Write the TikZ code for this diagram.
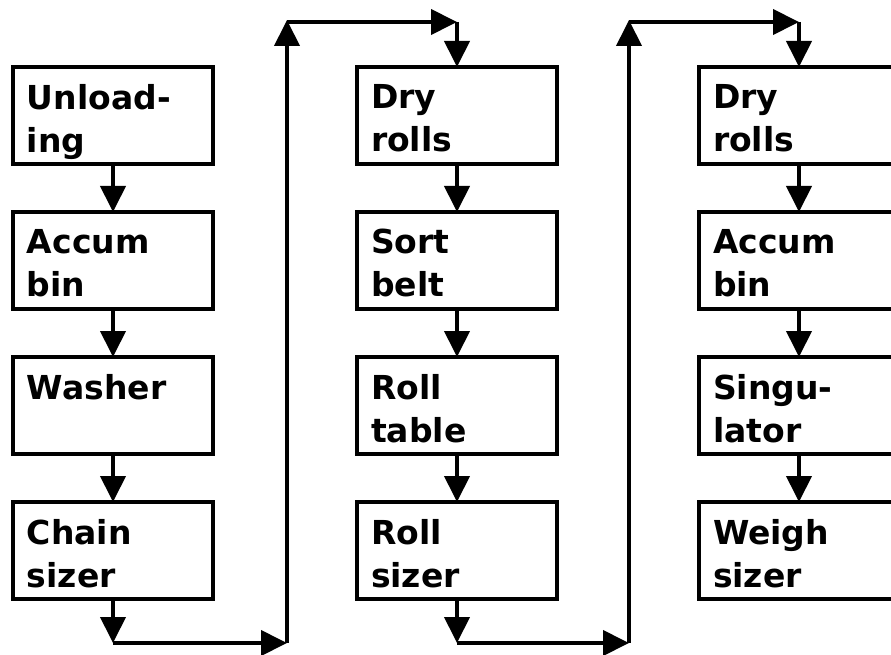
\documentclass[tikz,border=0pt]{standalone}
\usepackage{fontspec}
\setmainfont{DejaVu Sans}
\usetikzlibrary{arrows.meta}
\tikzset{
  box/.style={draw, line width=3.5pt, minimum width=200pt, minimum height=97pt, inner sep=0pt, outer sep=0pt, anchor=north west},
  lbl/.style={anchor=base west, inner sep=0pt, outer sep=0pt, font=\fontsize{33}{43}\selectfont\bfseries},
  flow/.style={line width=4pt, -{Triangle[width=25pt,length=26pt]}}
}
\newcommand\mylines[2]{\vtop{\hbox{#1}\hbox{#2}}}
\begin{document}
\begin{tikzpicture}[x=1pt,y=-1pt]
\useasboundingbox (0,0) rectangle (891,655);
\clip (0,0) rectangle (891,655);
% column 1
\node[box] (a1) at (13,67) {};
\node[box] (a2) at (13,212) {};
\node[box] (a3) at (13,357) {};
\node[box] (a4) at (13,502) {};
% column 2
\node[box] (b1) at (357,67) {};
\node[box] (b2) at (357,212) {};
\node[box] (b3) at (357,357) {};
\node[box] (b4) at (357,502) {};
% column 3
\node[box] (c1) at (699,67) {};
\node[box] (c2) at (699,212) {};
\node[box] (c3) at (699,357) {};
\node[box] (c4) at (699,502) {};
% labels
\node[lbl] (ta1) at ([shift={(14,43)}]a1.north west) {\mylines{Unload-}{ing}};
\node[lbl] (ta2) at ([shift={(14,41)}]a2.north west) {\mylines{Accum}{bin}};
\node[lbl] (ta3) at ([shift={(14,42)}]a3.north west) {Washer};
\node[lbl] (ta4) at ([shift={(14,42)}]a4.north west) {\mylines{Chain}{sizer}};
\node[lbl] (tb1) at ([shift={(14,42)}]b1.north west) {\mylines{Dry}{rolls}};
\node[lbl] (tb2) at ([shift={(14,41)}]b2.north west) {\mylines{Sort}{belt}};
\node[lbl] (tb3) at ([shift={(14,42)}]b3.north west) {\mylines{Roll}{table}};
\node[lbl] (tb4) at ([shift={(14,42)}]b4.north west) {\mylines{Roll}{sizer}};
\node[lbl] (tc1) at ([shift={(14,42)}]c1.north west) {\mylines{Dry}{rolls}};
\node[lbl] (tc2) at ([shift={(14,41)}]c2.north west) {\mylines{Accum}{bin}};
\node[lbl] (tc3) at ([shift={(14,42)}]c3.north west) {\mylines{Singu-}{lator}};
\node[lbl] (tc4) at ([shift={(14,42)}]c4.north west) {\mylines{Weigh}{sizer}};
% arrows within columns
\draw[flow] (a1.south) -- (a2.north);
\draw[flow] (a2.south) -- (a3.north);
\draw[flow] (a3.south) -- (a4.north);
\draw[flow] (b1.south) -- (b2.north);
\draw[flow] (b2.south) -- (b3.north);
\draw[flow] (b3.south) -- (b4.north);
\draw[flow] (c1.south) -- (c2.north);
\draw[flow] (c2.south) -- (c3.north);
\draw[flow] (c3.south) -- (c4.north);
% links between columns
\coordinate (p1) at (113,643);
\coordinate (p2) at (287,643);
\coordinate (p3) at (287,20);
\coordinate (p4) at (457,22);
\draw[flow] (a4.south) -- (p1);
\draw[flow] (p1) -- (p2);
\draw[flow] (p2) -- (p3);
\draw[flow] ([yshift=-2pt]p3) -- (p4);
\draw[flow] (p4) -- (b1.north);
\coordinate (q1) at (457,643);
\coordinate (q2) at (629,643);
\coordinate (q3) at (629,20);
\coordinate (q4) at (799,22);
\draw[flow] (b4.south) -- (q1);
\draw[flow] (q1) -- (q2);
\draw[flow] (q2) -- (q3);
\draw[flow] ([yshift=-2pt]q3) -- (q4);
\draw[flow] (q4) -- (c1.north);
\end{tikzpicture}
\end{document}
